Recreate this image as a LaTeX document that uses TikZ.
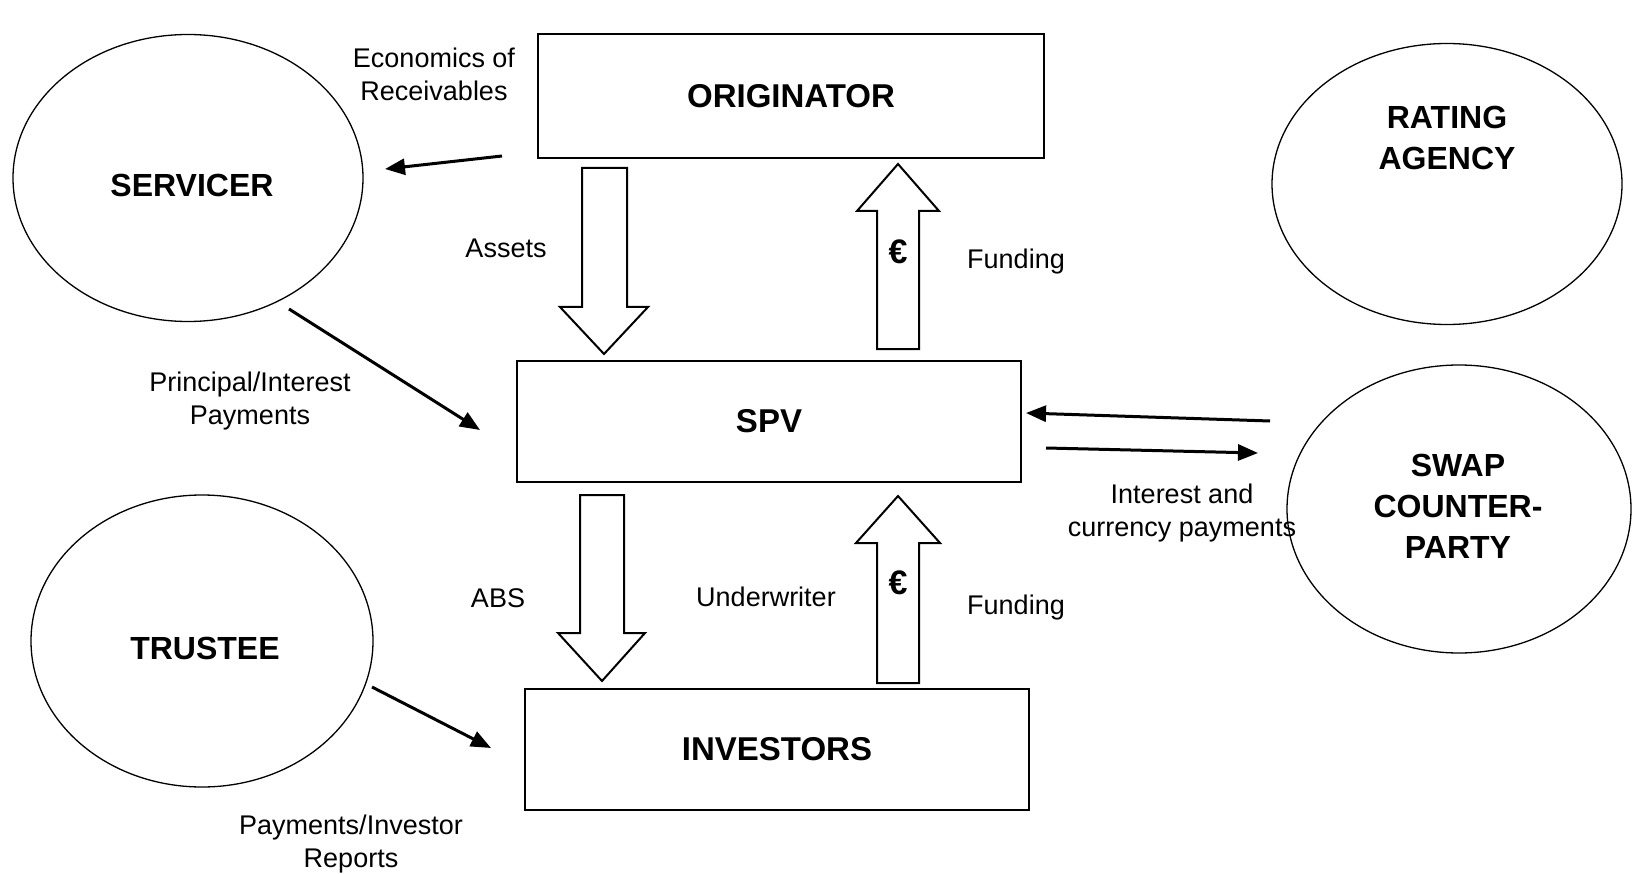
\documentclass[tikz,border=0pt]{standalone}
\usepackage{fontspec}
\setmainfont{Liberation Sans}
\usetikzlibrary{shapes.geometric,arrows.meta}
\begin{document}
\begin{tikzpicture}[x=1pt,y=-1pt,
 party/.style={draw, ellipse, line width=1.3pt, inner sep=0pt, font=\bfseries\fontsize{32}{41}\selectfont, align=center},
 entity/.style={draw, rectangle, line width=2pt, inner sep=0pt, font=\bfseries\fontsize{33}{41}\selectfont},
 bold/.style={font=\bfseries\fontsize{32}{41}\selectfont, align=center, inner sep=0pt},
 lbl/.style={font=\fontsize{27}{33}\selectfont, align=center, inner sep=0pt},
 conn/.style={line width=3pt, -{Triangle[length=20pt,width=16pt]}},
 blockarrow/.style={draw, line width=2pt, fill=white, line join=miter},
 euro/.style={font=\bfseries\fontsize{34}{34}\selectfont, inner sep=0pt}]
\useasboundingbox (0,0) rectangle (1632,874);

% parties (ellipses)
\node[party, minimum width=350pt, minimum height=287pt] (servicer) at (188,178) {};
\node[bold] (servicertxt) at (192,185) {SERVICER};
\node[party, minimum width=342pt, minimum height=292pt] (trustee) at (202,641) {};
\node[bold] (trusteetxt) at (205,648) {TRUSTEE};
\node[party, minimum width=350pt, minimum height=281pt] (rating) at (1447,184) {};
\node[bold] (ratingtxt) at (1447,138) {RATING\\AGENCY};
\node[party, minimum width=344pt, minimum height=288pt] (swap) at (1459,509) {};
\node[bold] (swaptxt) at (1458,506) {SWAP\\COUNTER-\\PARTY};

% entities (boxes)
\node[entity, minimum width=506pt, minimum height=124pt] (orig) at (791,96) {ORIGINATOR};
\node[entity, minimum width=504pt, minimum height=121pt] (spv) at (769,421.5) {SPV};
\node[entity, minimum width=504pt, minimum height=121pt] (inv) at (777,749.5) {INVESTORS};

% block arrows
\draw[blockarrow] (582,168) -- (627,168) -- (627,307) -- (648,307) -- (604,354) -- (560,307) -- (582,307) -- cycle;
\draw[blockarrow] (877,349) -- (919,349) -- (919,211) -- (939,211) -- (898,164) -- (857,211) -- (877,211) -- cycle;
\draw[blockarrow] (580,495) -- (624,495) -- (624,633) -- (645,633) -- (602,681) -- (558,633) -- (580,633) -- cycle;
\draw[blockarrow] (877,683) -- (919,683) -- (919,543) -- (940,543) -- (898,496) -- (856,543) -- (877,543) -- cycle;
\node[euro] (euro1) at (898,252) {€};
\node[euro] (euro2) at (898,583) {€};

% connector end points
\coordinate (c1s) at (502,156);
\coordinate (c1e) at (385,169);
\coordinate (c2s) at (289,309);
\coordinate (c2e) at (480,430);
\coordinate (c3s) at (1270,421);
\coordinate (c3e) at (1026,413);
\coordinate (c4s) at (1046,448);
\coordinate (c4e) at (1258,453);
\coordinate (c5s) at (372,687);
\coordinate (c5e) at (491,748);

\draw[conn] (c1s) -- (c1e);
\draw[conn] (c2s) -- (c2e);
\draw[conn] (c3s) -- (c3e);
\draw[conn] (c4s) -- (c4e);
\draw[conn] (c5s) -- (c5e);

% labels
\node[lbl] (econ) at (434,74) {Economics of\\Receivables};
\node[lbl] (assets) at (506,248) {Assets};
\node[lbl] (fund1) at (1016,262) {Funding};
\node[lbl] (princ) at (250,401) {Principal/Interest\\Payments};
\node[lbl] (ircp) at (1182,513) {Interest and\\currency payments};
\node[lbl] (abs) at (498,598) {ABS};
\node[lbl] (under) at (766,597) {Underwriter};
\node[lbl] (fund2) at (1016,608) {Funding};
\node[lbl] (payrep) at (351,844) {Payments/Investor\\Reports};
\end{tikzpicture}
\end{document}
